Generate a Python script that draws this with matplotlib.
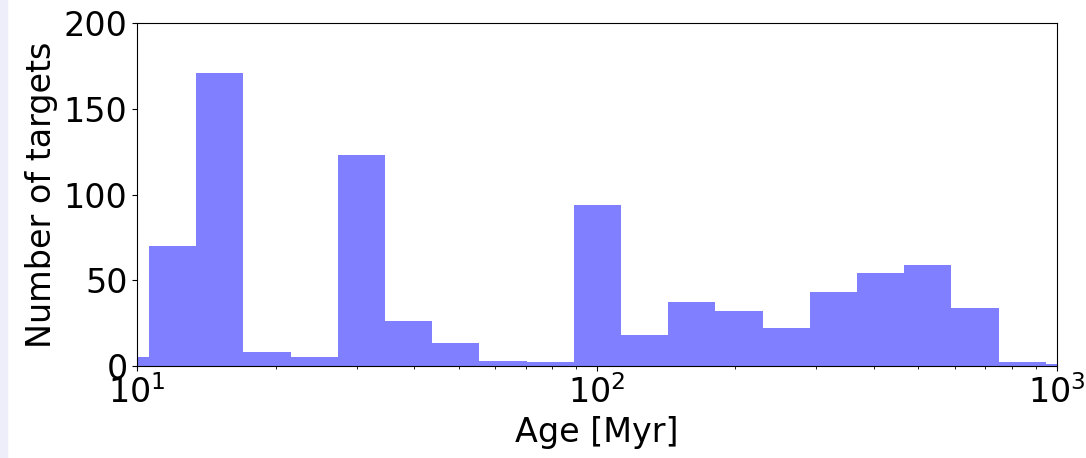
import numpy as np
import matplotlib
matplotlib.use("Agg")
import matplotlib.pyplot as plt
from matplotlib.patches import Rectangle

# Log-spaced age bins (log10 of edges) and counts per bin
log_edge_min = 0.9229
log_edge_max = 3.0790
n_bins = 21
counts = [5, 70, 171, 8, 5, 123, 26, 13, 3, 2, 94, 18, 37, 32, 22, 43, 54, 59, 34, 2, 1]

x_limits = [10, 1000]
y_limits = [0, 200]
y_ticks = [0, 50, 100, 150, 200]

edges = np.logspace(log_edge_min, log_edge_max, n_bins + 1)
centers = np.sqrt(edges[:-1] * edges[1:])

fig = plt.figure(figsize=(10.86, 4.58), dpi=100)
fig.patches.append(Rectangle((0, 0), 7 / 1086, 1, transform=fig.transFigure,
                             color="#eeeefb", zorder=0))
ax = fig.add_axes([0.1264, 0.2015, 0.8466, 0.7476])

ax.hist(centers, bins=edges, weights=counts, color="blue", alpha=0.5)
ax.set_xscale("log")
ax.set_xlim(x_limits)
ax.set_ylim(y_limits)
ax.set_yticks(y_ticks)

ax.set_xlabel("Age [Myr]", fontsize=24)
ax.set_ylabel("Number of targets", fontsize=24)
ax.tick_params(labelsize=24)

fig.savefig("out.png", dpi=100)
